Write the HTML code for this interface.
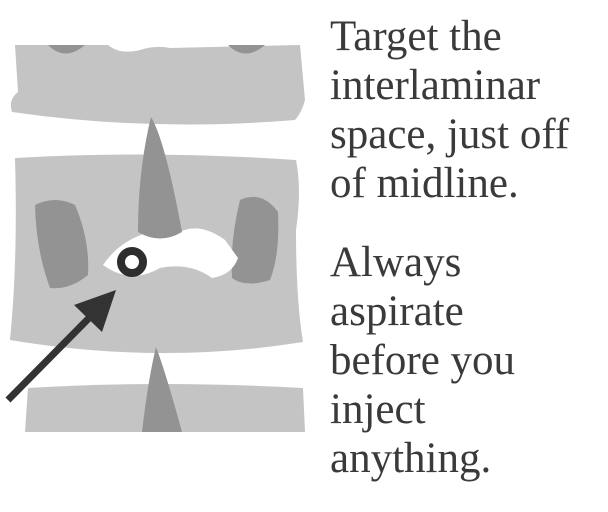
<!DOCTYPE html>
<html><head><meta charset="utf-8"><style>
body{margin:0;width:608px;height:512px;background:#fff;overflow:hidden;position:relative}
.t{position:absolute;left:330px;font-family:"Liberation Serif",serif;font-size:43px;color:#3a3a3a;line-height:49px;margin:0;white-space:nowrap}
</style></head><body>
<svg width="320" height="512" style="position:absolute;left:0;top:0">
 <path d="M15,45 L108,45 Q120,55 140,50 Q155,45 170,48 L300,45 L305,100 Q302,112 295,120 Q150,132 12,112 Q8,100 18,92 Z" fill="#c4c4c4"/>
 <path d="M48,45 Q65,62 85,45Z M228,45 Q245,62 265,45Z" fill="#939393"/>
 <path d="M15,158 Q150,150 296,160 Q302,190 296,230 Q296,300 303,342 Q160,365 10,340 Q18,260 15,158Z" fill="#c4c4c4"/>
 <path d="M35,205 Q55,195 75,205 Q90,240 88,275 Q70,290 50,288 Q36,250 35,205Z" fill="#939393"/>
 <path d="M240,200 Q262,190 278,212 Q280,255 270,280 Q245,288 232,278 Q230,240 240,200Z" fill="#939393"/>
 <path d="M103,265 Q120,240 150,232 L180,232 Q200,222 225,240 L238,258 Q232,275 212,278 Q190,262 160,268 Q130,285 103,265Z" fill="#fff"/>
 <path d="M151,117 Q165,140 182,232 Q160,245 138,232 Q138,170 151,117Z" fill="#939393"/>
 <path d="M28,388 Q160,380 303,388 L305,432 L25,432Z" fill="#c4c4c4"/>
 <path d="M156,347 Q165,370 182,432 L142,432 Q148,380 156,347Z" fill="#939393"/>
 <circle cx="132" cy="262" r="11" fill="none" stroke="#2e2e2e" stroke-width="8"/>
 <g>
  <line x1="8" y1="400" x2="92" y2="315" stroke="#333" stroke-width="7"/>
  <polygon points="116,290 74,305 102,332" fill="#333"/>
 </g>
</svg>
<p class="t" style="top:12px">Target the<br>interlaminar<br>space, just off<br>of midline.</p>
<p class="t" style="top:238px">Always<br>aspirate<br>before you<br>inject<br>anything.</p>
</body></html>
